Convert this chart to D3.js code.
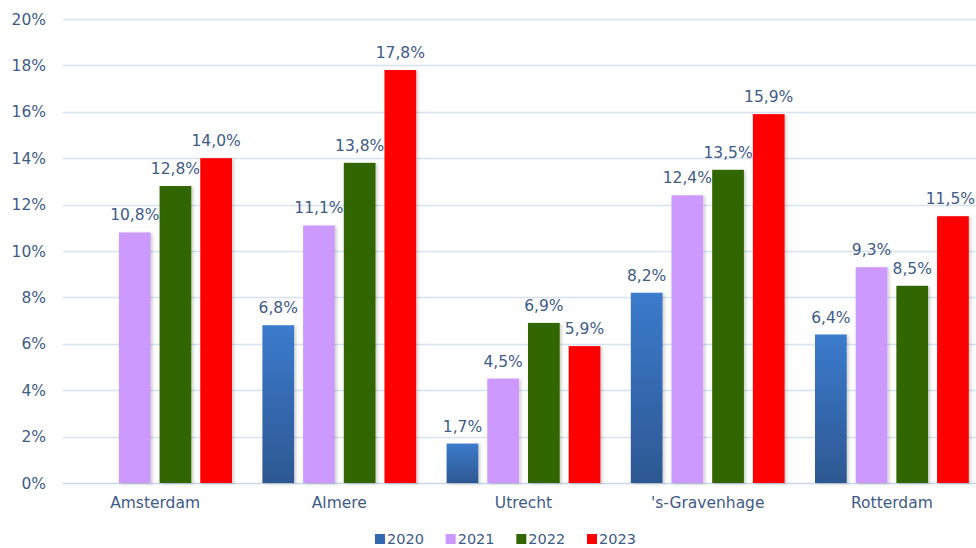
<!DOCTYPE html>
<html>
<head>
<meta charset="utf-8">
<script src="https://cdn.jsdelivr.net/npm/d3@7"></script>
<style>
  html, body { margin: 0; padding: 0; background: #ffffff; }
  svg { display: block; }
  text { font-family: "DejaVu Sans", sans-serif; fill: #3E5B86; }
</style>
</head>
<body>
<svg id="chart" width="976" height="548"></svg>
<script>
const categories = ["Amsterdam", "Almere", "Utrecht", "'s-Gravenhage", "Rotterdam"];
const years = ["2020", "2021", "2022", "2023"];
const values2020 = [null, 6.8, 1.7, 8.2, 6.4];
const values2021 = [10.8, 11.1, 4.5, 12.4, 9.3];
const values2022 = [12.8, 13.8, 6.9, 13.5, 8.5];
const values2023 = [14.0, 17.8, 5.9, 15.9, 11.5];
const yTicks = [0, 2, 4, 6, 8, 10, 12, 14, 16, 18, 20];
const colors = ["url(#blueGrad)", "#CC99FF", "#336600", "#FF0000"];
const legendColors = ["#3468B0", "#CC99FF", "#336600", "#FF0000"];

const series = [values2020, values2021, values2022, values2023];

const W = 976;
const svg = d3.select("#chart");
const defs = svg.append("defs");
const grad = defs.append("linearGradient").attr("id", "blueGrad")
  .attr("x1", 0).attr("y1", 0).attr("x2", 0).attr("y2", 1);
grad.append("stop").attr("offset", "0%").attr("stop-color", "#3B7BCD");
grad.append("stop").attr("offset", "100%").attr("stop-color", "#2D5892");
const shadow = defs.append("filter").attr("id", "shadow")
  .attr("x", "-20%").attr("y", "-5%").attr("width", "150%").attr("height", "115%");
shadow.append("feDropShadow").attr("dx", 2).attr("dy", 1).attr("stdDeviation", 1.5)
  .attr("flood-color", "#000").attr("flood-opacity", 0.18);

const plotLeft = 63, plotRight = 984, plotTop = 19, plotBottom = 483;

const y = d3.scaleLinear().domain([0, 20]).range([plotBottom, plotTop]);
const x0 = d3.scaleBand().domain(categories).range([plotLeft, plotRight])
  .paddingInner(0.165).paddingOuter(0.0825);
const x1 = d3.scaleBand().domain(years).range([0, x0.bandwidth()]).paddingInner(0.22);

// gridlines
svg.append("g").selectAll("line").data(yTicks).join("line")
  .attr("x1", plotLeft).attr("x2", W)
  .attr("y1", d => Math.round(y(d)) + 0.5).attr("y2", d => Math.round(y(d)) + 0.5)
  .attr("stroke", d => d === 0 ? "#C9D5E8" : "#D7E1F0").attr("stroke-width", 1.3);

// y tick labels
svg.append("g").selectAll("text").data(yTicks).join("text")
  .attr("x", 46).attr("y", d => y(d)).attr("dy", "0.36em")
  .attr("text-anchor", "end").attr("font-size", "15.5px")
  .text(d => d + "%");

// bars
const fmt = v => v.toFixed(1).replace(".", ",") + "%";

years.forEach((yr, si) => {
  const data = categories.map((c, ci) => ({ c, v: series[si][ci] })).filter(d => d.v != null);
  const g = svg.append("g");
  g.selectAll("rect").data(data).join("rect")
    .attr("x", d => x0(d.c) + x1(yr))
    .attr("y", d => y(d.v))
    .attr("width", x1.bandwidth())
    .attr("height", d => y(0) - y(d.v))
    .attr("fill", colors[si])
    .attr("filter", "url(#shadow)");
  g.selectAll("text").data(data).join("text")
    .attr("y", d => y(d.v) - 12)
    .attr("text-anchor", "middle").attr("font-size", "15.5px")
    .text(d => fmt(d.v))
    .attr("x", function (d) {
      const cx = x0(d.c) + x1(yr) + x1.bandwidth() / 2;
      const half = this.getComputedTextLength() / 2;
      return Math.min(cx, W - half - 1);
    });
});

// x axis labels
svg.append("g").selectAll("text").data(categories).join("text")
  .attr("x", d => x0(d) + x0.bandwidth() / 2).attr("y", 508)
  .attr("text-anchor", "middle").attr("font-size", "15.5px")
  .text(d => d);

// legend
const legendX = d3.scalePoint().domain(years).range([375, 587]);
const lg = svg.append("g").selectAll("g").data(years).join("g")
  .attr("transform", d => `translate(${legendX(d)},534)`);
lg.append("rect").attr("width", 10).attr("height", 10)
  .attr("fill", (d, i) => legendColors[i]);
lg.append("text").attr("x", 12).attr("y", 5).attr("dy", "0.36em")
  .attr("font-size", "14.5px").text(d => d);
</script>
</body>
</html>
